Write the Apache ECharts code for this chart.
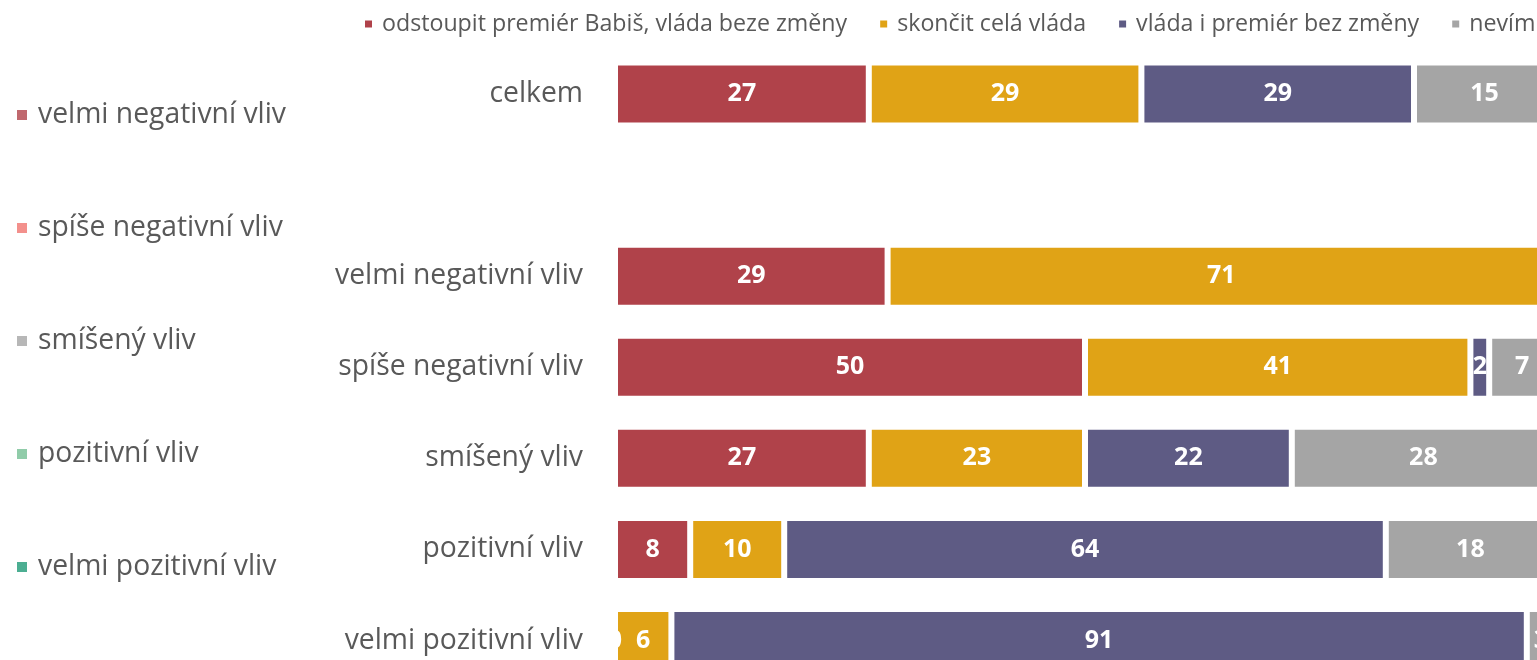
<!DOCTYPE html>
<html>
<head>
<meta charset="utf-8">
<script src="https://cdn.jsdelivr.net/npm/echarts@6/dist/echarts.min.js"></script>
<style>
html,body{margin:0;padding:0;background:#fff;overflow:hidden;}
/* graf je v predloze oriznuty vpravo a dole, proto je plocha vetsi nez okno */
#chart{width:1555px;height:686px;}
</style>
</head>
<body>
<div id="chart"></div>
<script>
// kategorie (shora dolu), prazdny radek mezi celkem a skupinami
var categories = ['celkem', '', 'velmi negativní vliv', 'spíše negativní vliv', 'smíšený vliv', 'pozitivní vliv', 'velmi pozitivní vliv'];

var seriesNames = ['odstoupit premiér Babiš, vláda beze změny', 'skončit celá vláda', 'vláda i premiér bez změny', 'nevím'];
var odstoupitPremier = [27, null, 29, 50, 27, 8, 0];
var skoncitVlada     = [29, null, 71, 41, 23, 10, 6];
var bezZmeny         = [29, null, 0, 2, 22, 64, 91];
var nevim            = [15, null, 0, 7, 28, 18, 3];
var seriesColors = ['#B0424A', '#E0A316', '#5E5B84', '#A5A5A5'];

// legenda vlevo
var vlivNames = ['velmi negativní vliv', 'spíše negativní vliv', 'smíšený vliv', 'pozitivní vliv', 'velmi pozitivní vliv'];
var vlivColors = ['#B0424A', '#F0746F', '#A5A5A5', '#74BF94', '#1F9A77'];

var FONT = 'Open Sans';
var chart = echarts.init(document.getElementById('chart'));

var values = [odstoupitPremier, skoncitVlada, bezZmeny, nevim];
var series = [];
for (var i = 0; i < seriesNames.length; i++) {
	series.push({
		name: seriesNames[i],
		type: 'bar',
		stack: 'total',
		barWidth: 63,
		data: values[i],
		itemStyle: { color: seriesColors[i], borderColor: '#ffffff', borderWidth: 3 },
		label: {
			show: true,
			position: 'inside',
			color: '#ffffff',
			fontFamily: FONT,
			fontWeight: 'bold',
			fontSize: 25
		}
	});
}
for (var j = 0; j < vlivNames.length; j++) {
	series.push({
		name: vlivNames[j],
		type: 'scatter',
		data: [],
		itemStyle: { color: vlivColors[j] }
	});
}

var option = {
	backgroundColor: '#ffffff',
	animation: false,
	legend: [
		{
			data: seriesNames,
			left: 358,
			top: 6,
			icon: 'rect',
			itemWidth: 9,
			itemHeight: 9,
			itemGap: 31,
			textStyle: { color: '#595959', fontFamily: FONT, fontSize: 23.2, lineHeight: 26, padding: [0, 0, 0, 4] }
		},
		{
			data: vlivNames,
			orient: 'vertical',
			left: 12,
			top: 95,
			icon: 'rect',
			itemWidth: 10,
			itemHeight: 10,
			itemGap: 83,
			textStyle: { color: '#595959', fontFamily: FONT, fontSize: 28.3, lineHeight: 30, padding: [0, 0, 0, 6] }
		}
	],
	grid: { left: 615, right: 0, top: 48.5, bottom: 0, containLabel: false },
	xAxis: {
		type: 'value',
		min: 0,
		max: 100,
		show: false
	},
	yAxis: {
		type: 'category',
		inverse: true,
		data: categories,
		axisLine: { show: false },
		axisTick: { show: false },
		axisLabel: { color: '#595959', fontFamily: FONT, fontSize: 28.3, margin: 32 }
	},
	series: series
};
chart.setOption(option);
</script>
</body>
</html>
